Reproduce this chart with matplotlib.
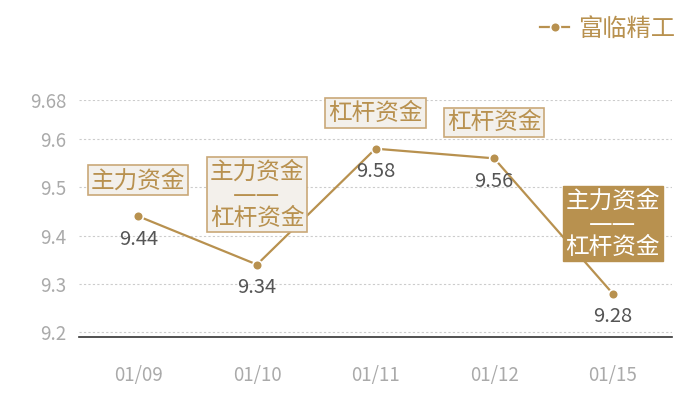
import matplotlib
matplotlib.use('Agg')
import matplotlib.pyplot as plt

plt.rcParams['font.family'] = ['Noto Sans CJK SC', 'DejaVu Sans']

# data
dates = ['01/09', '01/10', '01/11', '01/12', '01/15']
prices = [9.44, 9.34, 9.58, 9.56, 9.28]
tags = ['主力资金', '主力资金\n——\n杠杆资金', '杠杆资金', '杠杆资金', '主力资金\n——\n杠杆资金']
tag_filled = [False, False, False, False, True]
yticks = [9.2, 9.3, 9.4, 9.5, 9.6, 9.68]
ytick_labels = ['9.2', '9.3', '9.4', '9.5', '9.6', '9.68']
series_name = '富临精工'

gold = '#B8914F'
boxFill = '#F3F0EB'
grey = '#AAAAAA'

fig = plt.figure(figsize=(7, 4), dpi=100)
ax = fig.add_axes([0.113, 0.1575, 0.847, 0.5915])

x = list(range(len(dates)))
ax.plot(x, prices, color=gold, lw=1.6, marker='o', markersize=7,
        markerfacecolor=gold, markeredgecolor='white', markeredgewidth=1.2,
        label=series_name, zorder=3)

for i, (v, tag, filled) in enumerate(zip(prices, tags, tag_filled)):
    ax.annotate(f'{v:.2f}', (i, v), textcoords='offset pixels', xytext=(0, -23),
                ha='center', va='center', fontsize=14.5, color='#555555', zorder=4)
    multi = '\n' in tag
    off = 70 if multi else 36
    if filled:
        bb = dict(boxstyle='square,pad=0.12', fc=gold, ec=gold, lw=1)
        tc = 'white'
    else:
        bb = dict(boxstyle='square,pad=0.12', fc=boxFill, ec='#C9A878', lw=1.2)
        tc = gold
    # DejaVu first so the dash line is one solid stroke, CJK for the hanzi
    ax.annotate(tag, (i, v), textcoords='offset pixels', xytext=(0, off),
                ha='center', va='center', fontsize=17, color=tc, linespacing=0.95,
                family=['DejaVu Sans', 'Noto Sans CJK SC'],
                multialignment='center', bbox=bb, zorder=5, annotation_clip=False)

ax.set_xlim(-0.5, 4.5)
ax.set_ylim(9.19, 9.68)
ax.set_xticks(x)
ax.set_xticklabels(dates, fontsize=13.5, color=grey)
ax.set_yticks(yticks)
ax.set_yticklabels(ytick_labels, fontsize=13.5, color=grey)
ax.tick_params(length=0, pad=9)
ax.tick_params(axis='x', pad=20)
ax.grid(axis='y', color='#CCCCCC', linestyle=(0, (2, 2)), lw=0.8)
ax.set_axisbelow(True)
for s in ['top', 'right', 'left']:
    ax.spines[s].set_visible(False)
ax.spines['bottom'].set_color('#333333')
ax.spines['bottom'].set_linewidth(1.2)

leg = fig.legend(loc='upper right', bbox_to_anchor=(0.995, 1.015), frameon=False,
                 fontsize=17.5, labelcolor=gold, handlelength=1.2, handletextpad=0.35)

fig.savefig('out.png', dpi=100)
